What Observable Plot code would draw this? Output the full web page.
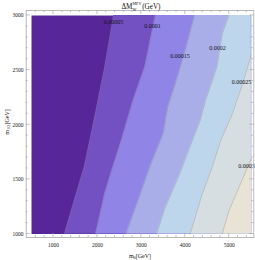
<!DOCTYPE html>
<html><head><meta charset="utf-8">
<script src="https://cdn.jsdelivr.net/npm/d3@7"></script>
<script src="https://cdn.jsdelivr.net/npm/@observablehq/plot@0.6"></script>
<style>body{margin:0;background:#fff} svg{display:block}</style>
</head><body><div id="chart"></div>
<script>
// contour levels (labels) and band colours (low -> high)
const levels = ["0.00005","0.0001","0.00015","0.0002","0.00025","0.0003"];
const bandColors = ["#57279a","#7451c2","#9084e6","#a9aee8","#bdd6ec","#d6dee1","#e8e3d5"];
// contour boundaries: [m0, m12]
const c00005 = [[2370,3000],[2170,2530],[1940,2070],[1700,1610],[1470,1300],[1250,1000]];
const c0001  = [[3320,3000],[3080,2530],[2810,2220],[2540,1850],[2350,1610],[2160,1360],[1960,1000]];
const c00015 = [[4210,3000],[4000,2680],[3770,2370],[3600,2160],[3500,1920],[3190,1610],[2920,1300],[2650,1000]];
const c0002  = [[4990,3000],[4840,2830],[4720,2530],[4460,2220],[4340,2040],[4070,1760],[3840,1520],[3540,1240],[3345,1000]];
const c00025 = [[5500,2640],[5300,2370],[5070,2100],[4800,1850],[4610,1610],[4380,1360],[4110,1000]];
const c0003  = [[5500,1690],[5220,1425],[4990,1210],[4840,1000]];
const boundaries = [c00005, c0001, c00015, c0002, c00025, c0003];
// contour label positions
const labelM0  = [2366, 3254, 3880, 4733, 5279, 5393];
const labelM12 = [2939, 2899, 2633, 2704, 2394, 1624];
// axes
const xDomain = [500, 5500];
const yDomain = [1000, 3000];
const xMajor = [1000, 2000, 3000, 4000, 5000];
const xMinor = [600,800,1200,1400,1600,1800,2200,2400,2600,2800,3200,3400,3600,3800,4200,4400,4600,4800,5200,5400];
const yMajor = [1000, 1500, 2000, 2500, 3000];
const yMinor = [1100,1200,1300,1400,1600,1700,1800,1900,2100,2200,2300,2400,2600,2700,2800,2900];

const serif = "'Liberation Serif','DejaVu Serif',serif";
const xMax = xDomain[1];

const plot = Plot.plot({
  width: 255, height: 260,
  marginLeft: 31, marginRight: 4.3, marginTop: 15, marginBottom: 26.5,
  x: {domain: xDomain},
  y: {domain: yDomain},
  style: {fontFamily: serif, fontSize: "5.5px", color: "#222", background: "#fff"},
  marks: [
    Plot.frame({fill: bandColors[0], stroke: "none"}),
    ...boundaries.map((b, i) => Plot.areaX(b, {y: d => d[1], x1: d => d[0], x2: () => xMax, fill: bandColors[i + 1]})),
    ...boundaries.map(b => Plot.line(b, {x: d => d[0], y: d => d[1], stroke: "#777", strokeOpacity: 0.55, strokeWidth: 0.6})),
    Plot.text(levels, {x: (d, i) => labelM0[i], y: (d, i) => labelM12[i], text: d => d, fontSize: 6, fill: "#111"}),
    Plot.frame({stroke: "#a8a8a8", strokeWidth: 0.8, insetLeft: -5.3, insetTop: -5, insetRight: -2.6, insetBottom: -3.5}),
    Plot.axisX({ticks: xMajor, tickSize: 0, tickPadding: 9, label: null, tickFormat: d => String(d)}),
    Plot.axisY({ticks: yMajor, tickSize: 0, tickPadding: 8, label: null, tickFormat: d => String(d)})
  ]
});
document.getElementById("chart").appendChild(plot);

const svg = d3.select(plot);
const xs = plot.scale("x"), ys = plot.scale("y");
const L = xs.apply(xDomain[0]) - 5.3, R = xs.apply(xDomain[1]) + 2.6;
const T = ys.apply(yDomain[1]) - 5, B = ys.apply(yDomain[0]) + 3.5;
const tg = svg.append("g").attr("stroke", "#a8a8a8").attr("stroke-width", 0.7);
function xt(v, len) {
  const X = xs.apply(v);
  tg.append("line").attr("x1", X).attr("x2", X).attr("y1", B).attr("y2", B - len);
  tg.append("line").attr("x1", X).attr("x2", X).attr("y1", T).attr("y2", T + len);
}
function yt(v, len) {
  const Y = ys.apply(v);
  tg.append("line").attr("y1", Y).attr("y2", Y).attr("x1", L).attr("x2", L + len);
  tg.append("line").attr("y1", Y).attr("y2", Y).attr("x1", R).attr("x2", R - len);
}
xMajor.forEach(v => xt(v, 4)); xMinor.forEach(v => xt(v, 2));
yMajor.forEach(v => yt(v, 4)); yMinor.forEach(v => yt(v, 2));

// axis labels
const lg = svg.append("g").attr("font-family", serif).attr("fill", "#111");
const xl = lg.append("text").attr("x", 140).attr("y", 257.5).attr("text-anchor", "middle").attr("font-size", 6);
xl.append("tspan").text("m");
xl.append("tspan").attr("dy", 1.5).attr("font-size", 4.3).text("0");
xl.append("tspan").attr("dy", -1.5).text("[GeV]");
const yl = lg.append("text").attr("transform", "translate(8.5,122) rotate(-90)").attr("text-anchor", "middle").attr("font-size", 6);
yl.append("tspan").text("m");
yl.append("tspan").attr("dy", 1.5).attr("font-size", 4.3).text("1/2");
yl.append("tspan").attr("dy", -1.5).text("[GeV]");

// title: ΔM_W^MPV (GeV), one text element with stacked scripts
const tfs = 7.2, sfs = 4.1;
function measure(str, fs) {
  const t = lg.append("text").attr("font-size", fs).text(str);
  const w = t.node().getComputedTextLength();
  t.remove();
  return w;
}
const wSup = measure("MPV", sfs), wSub = measure("W", sfs);
const title = lg.append("text").attr("x", 141).attr("y", 9.3).attr("text-anchor", "middle").attr("font-size", tfs);
title.append("tspan").text("ΔM");
title.append("tspan").attr("dy", -4.3).attr("font-size", sfs).text("MPV");
title.append("tspan").attr("dx", -wSup).attr("dy", 5.9).attr("font-size", sfs).text("W");
title.append("tspan").attr("dx", Math.max(0, wSup - wSub) + 0.8).attr("dy", -1.6).text("(GeV)");
</script>
</body></html>
